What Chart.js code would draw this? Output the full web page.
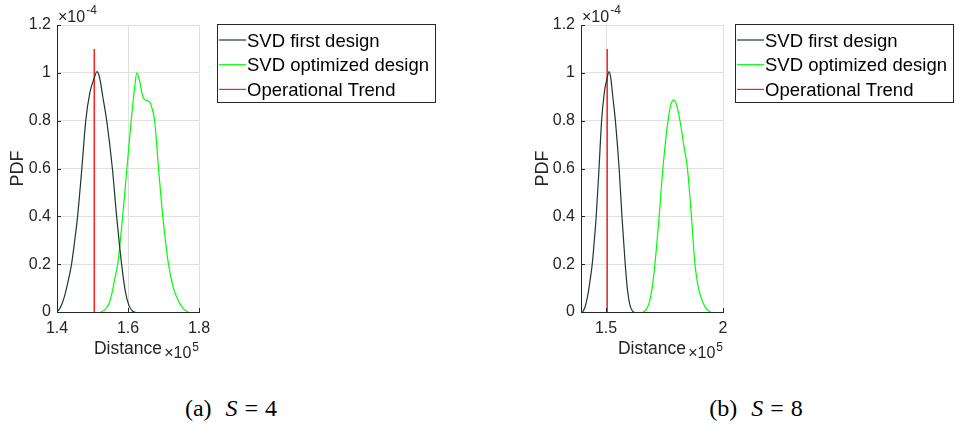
<!DOCTYPE html>
<html>
<head>
<meta charset="utf-8">
<script src="https://cdn.jsdelivr.net/npm/chart.js@4.4.0/dist/chart.umd.min.js"></script>
<style>
  body { margin: 0; background: #fff; width: 956px; height: 431px; position: relative; overflow: hidden; }
  canvas { position: absolute; top: 0; }
  .cap { position: absolute; top: 395px; font-family: "Liberation Serif", "DejaVu Serif", serif; font-size: 24px;
         transform: translateX(-50%); white-space: nowrap; color: #000; }
  .cap i { margin-left: 14px; }
  .cap .eq { margin: 0 7px; }
</style>
</head>
<body>
<canvas id="chartA" width="478" height="375" style="left:0"></canvas>
<canvas id="chartB" width="478" height="375" style="left:478px"></canvas>
<div class="cap" style="left:231px">(a)<i>S</i><span class="eq">=</span>4</div>
<div class="cap" style="left:756px">(b)<i>S</i><span class="eq">=</span>8</div>
<script>
// x in units of 1e5, y in units of 1e-4 (as shown on the axes)
const seriesNames = ['SVD first design', 'SVD optimized design', 'Operational Trend'];

const firstX = [1.400, 1.410, 1.420, 1.430, 1.441, 1.450, 1.458, 1.470, 1.481, 1.493, 1.503, 1.513,
                1.520, 1.529, 1.540, 1.556, 1.568, 1.582, 1.592, 1.602, 1.612, 1.620];
const firstY = [0, 0.02, 0.06, 0.12, 0.2, 0.3, 0.4, 0.6, 0.8, 0.92, 0.97, 1.005,
                0.98, 0.9, 0.8, 0.6, 0.4, 0.2, 0.09, 0.03, 0.005, 0];

// S = 4
const optAX = [1.524, 1.535, 1.545, 1.555, 1.563, 1.571, 1.585, 1.597, 1.609, 1.618, 1.625, 1.632,
               1.642, 1.650, 1.660, 1.666, 1.675, 1.686, 1.698, 1.714, 1.728, 1.741, 1.755, 1.769];
const optAY = [0, 0.01, 0.03, 0.08, 0.14, 0.2, 0.4, 0.6, 0.8, 0.93, 1.0, 0.97,
               0.9, 0.885, 0.88, 0.86, 0.8, 0.6, 0.4, 0.2, 0.1, 0.05, 0.015, 0];

// S = 8
const optBX = [1.659, 1.672, 1.685, 1.697, 1.709, 1.727, 1.743, 1.765, 1.778, 1.792, 1.803, 1.816,
               1.832, 1.848, 1.865, 1.880, 1.895, 1.910, 1.930, 1.949];
const optBY = [0, 0.01, 0.04, 0.1, 0.2, 0.4, 0.6, 0.8, 0.87, 0.887, 0.86, 0.8,
               0.7, 0.6, 0.4, 0.2, 0.1, 0.05, 0.012, 0];

const trendX = [1.505, 1.505];
const trendY = [0, 1.1];

const xTicksA = [1.4, 1.6, 1.8];
const xLabelsA = ['1.4', '1.6', '1.8'];
const xTicksB = [1.5, 2];
const xLabelsB = ['1.5', '2'];
const yTicks = [0, 0.2, 0.4, 0.6, 0.8, 1, 1.2];
const yLabels = ['0', '0.2', '0.4', '0.6', '0.8', '1', '1.2'];

Chart.defaults.font.family = '"Liberation Sans", Arial, sans-serif';
Chart.defaults.color = '#262626';

const pts = (xs, ys) => xs.map((x, i) => ({ x: x, y: ys[i] }));
const FONT = '"Liberation Sans", Arial, sans-serif';

const extras = {
  id: 'extras',
  afterDraw(chart, args, o) {
    const ctx = chart.ctx;
    const a = chart.chartArea;
    ctx.save();

    // inward tick marks
    ctx.strokeStyle = '#262626';
    ctx.lineWidth = 1;
    const xs = chart.scales.x, ys = chart.scales.y;
    ctx.beginPath();
    ys.ticks.forEach(t => {
      const p = Math.round(ys.getPixelForValue(t.value)) + 0.5;
      ctx.moveTo(a.left, p); ctx.lineTo(a.left + 4, p);
    });
    xs.ticks.forEach(t => {
      const p = Math.round(xs.getPixelForValue(t.value)) + 0.5;
      ctx.moveTo(p, a.bottom); ctx.lineTo(p, a.bottom - 4);
    });
    ctx.stroke();

    // exponent labels
    ctx.fillStyle = '#262626';
    ctx.textBaseline = 'alphabetic';
    ctx.textAlign = 'left';
    ctx.font = '16px ' + FONT;
    ctx.fillText('\u00d710', a.left + 1, 22);
    const w10 = ctx.measureText('\u00d710').width;
    ctx.font = '12px ' + FONT;
    ctx.fillText('-4', a.left + 1 + w10 + 1, 14);

    ctx.textAlign = 'right';
    ctx.font = '12px ' + FONT;
    ctx.fillText('5', a.right, 351);
    const w5 = ctx.measureText('5').width;
    ctx.font = '16px ' + FONT;
    ctx.fillText('\u00d710', a.right - w5 - 1, 358);

    // legend box
    const bx = a.right + o.gap, by = a.top - 1, bw = 218, bh = 78;
    ctx.fillStyle = '#fff';
    ctx.fillRect(bx, by, bw, bh);
    ctx.strokeStyle = '#262626';
    ctx.strokeRect(Math.round(bx) + 0.5, Math.round(by) + 0.5, bw, bh);
    ctx.font = '18.5px ' + FONT;
    ctx.textAlign = 'left';
    ctx.textBaseline = 'middle';
    chart.data.datasets.forEach((ds, i) => {
      const cy = by + 17.5 + i * 24.7;
      ctx.strokeStyle = ds.borderColor;
      ctx.lineWidth = 1.2;
      ctx.beginPath();
      ctx.moveTo(bx + 2, cy - 1.5); ctx.lineTo(bx + 29, cy - 1.5);
      ctx.stroke();
      ctx.fillStyle = '#000';
      ctx.fillText(ds.label, bx + 30, cy);
    });
    ctx.restore();
  }
};

function makeChart(id, optX, optY, xMin, xMax, xTicks, xLabels, padLeft, yWidth, gap) {
  const ctx = document.getElementById(id).getContext('2d');
  return new Chart(ctx, {
    type: 'line',
    data: {
      datasets: [
        { label: seriesNames[0], data: pts(firstX, firstY), borderColor: '#1a3a2e', borderWidth: 1.2 },
        { label: seriesNames[1], data: pts(optX, optY), borderColor: '#00ff00', borderWidth: 1.2 },
        { label: seriesNames[2], data: pts(trendX, trendY), borderColor: '#ff2020', borderWidth: 1.5, cubicInterpolationMode: 'default', tension: 0 }
      ]
    },
    options: {
      responsive: false,
      animation: false,
      parsing: false,
      elements: { point: { radius: 0 }, line: { cubicInterpolationMode: 'monotone' } },
      layout: { padding: { left: padLeft, top: 25, right: 478 - padLeft - yWidth - 142, bottom: 0 } },
      plugins: { legend: { display: false }, tooltip: { enabled: false }, extras: { gap: gap } },
      scales: {
        x: {
          type: 'linear', min: xMin, max: xMax,
          afterBuildTicks: s => { s.ticks = xTicks.map(v => ({ value: v })); },
          afterFit: s => { s.height = 63; },
          grid: { color: '#e0e0e0', drawTicks: false },
          border: { color: '#262626' },
          ticks: { font: { size: 16 }, padding: 7, maxRotation: 0, autoSkip: false,
                   callback: (v, i) => xLabels[i] },
          title: { display: true, text: 'Distance', font: { size: 17.5 }, padding: { top: 4, bottom: 15 } }
        },
        y: {
          min: 0, max: 1.2,
          afterBuildTicks: s => { s.ticks = yTicks.map(v => ({ value: v })); },
          afterFit: s => { s.width = yWidth; },
          grid: { color: '#e0e0e0', drawTicks: false },
          border: { color: '#262626' },
          ticks: { font: { size: 16 }, padding: 6, callback: (v, i) => yLabels[i] },
          title: { display: true, text: 'PDF', font: { size: 18 }, padding: { top: 7, bottom: 4 } }
        }
      }
    },
    plugins: [extras]
  });
}

makeChart('chartA', optAX, optAY, 1.4, 1.8, xTicksA, xLabelsA, 0, 57, 18);
makeChart('chartB', optBX, optBY, 1.393, 2.0, xTicksB, xLabelsB, 47, 56, 12);
</script>
</body>
</html>
